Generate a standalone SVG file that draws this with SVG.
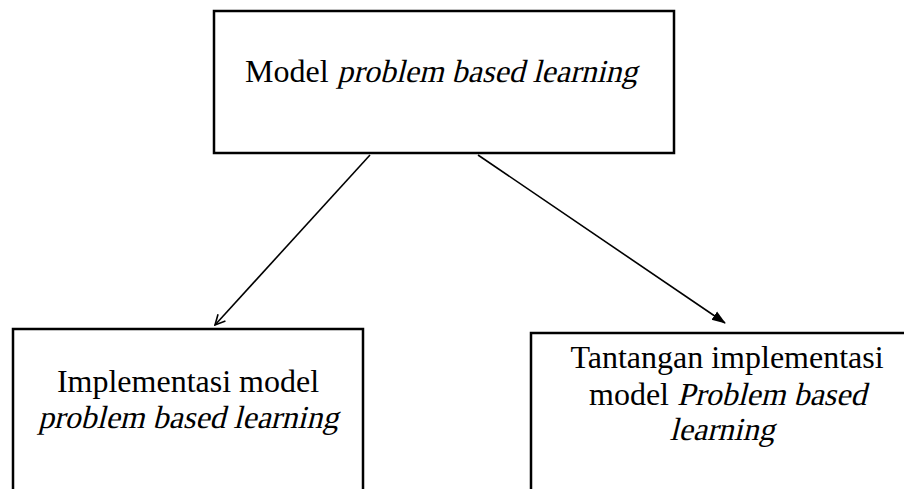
<svg xmlns="http://www.w3.org/2000/svg" width="904" height="489" viewBox="0 0 904 489">
<style>
.box{fill:#fff;stroke:#000;stroke-width:2.5}
.t{font-family:"Liberation Serif","Times New Roman",serif;font-size:32px;fill:#000}
.c{text-anchor:middle}
.ln{stroke:#000;stroke-width:1.6;fill:none}
</style>
<defs>
<marker id="open" viewBox="0 0 12 12" refX="11" refY="6" markerWidth="12" markerHeight="12" markerUnits="userSpaceOnUse" orient="auto">
<path d="M1,1 L11,6 L1,11" fill="none" stroke="#000" stroke-width="1.6"/>
</marker>
<marker id="fill" viewBox="0 0 14 12" refX="13" refY="6" markerWidth="14" markerHeight="12" markerUnits="userSpaceOnUse" orient="auto">
<path d="M0,1 L14,6 L0,11 Z" fill="#000"/>
</marker>
</defs>
<rect width="904" height="489" fill="#fff"/>
<g id="connectors">
<line class="ln" x1="370" y1="155" x2="215" y2="325" marker-end="url(#open)"/>
<line class="ln" x1="478" y1="155" x2="725" y2="323" marker-end="url(#fill)"/>
</g>
<g id="top">
<rect class="box" x="214" y="11" width="460" height="142"/>
<text class="t" x="245" y="82">Model</text>
<text class="t" transform="translate(337,82) skewX(-14)" x="0" y="0">problem based learning</text>
</g>
<g id="left">
<rect class="box" x="13" y="329" width="350" height="162"/>
<text class="t c" x="188" y="392">Implementasi model</text>
<text class="t c" transform="translate(188,428) skewX(-14)" x="0" y="0">problem based learning</text>
</g>
<g id="right">
<rect class="box" x="531" y="333" width="395" height="170"/>
<text class="t c" x="727" y="368">Tantangan implementasi</text>
<text class="t" x="589" y="405">model</text>
<text class="t" transform="translate(677,405) skewX(-14)" x="0" y="0">Problem based</text>
<text class="t c" transform="translate(722,440) skewX(-14)" x="0" y="0">learning</text>
</g>
</svg>
